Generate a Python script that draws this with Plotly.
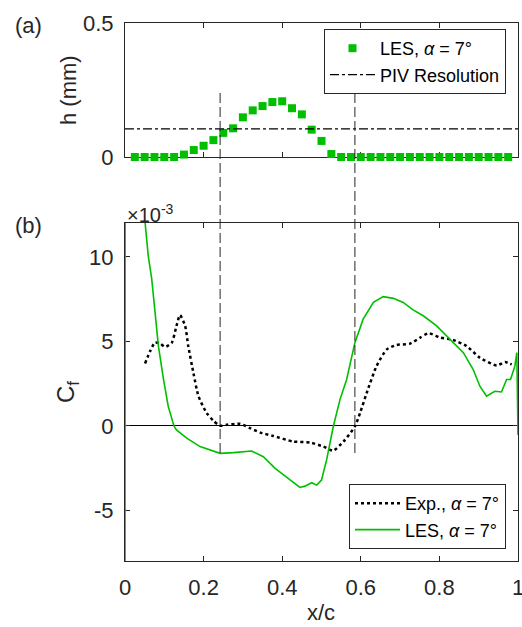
import plotly.graph_objects as go

# ---- data ----
h_x = [0.025, 0.05, 0.075, 0.1, 0.125, 0.15, 0.175, 0.2, 0.225, 0.25, 0.275, 0.3, 0.325,
       0.35, 0.375, 0.4, 0.425, 0.45, 0.475, 0.5, 0.525, 0.55, 0.575, 0.6, 0.625, 0.65,
       0.675, 0.7, 0.725, 0.75, 0.775, 0.8, 0.825, 0.85, 0.875, 0.9, 0.925, 0.95, 0.975]
h_mm = [0, 0, 0, 0, 0, 0.009, 0.026, 0.042, 0.063, 0.090, 0.107, 0.148, 0.174, 0.190,
        0.205, 0.208, 0.182, 0.159, 0.102, 0.060, 0.011, 0, 0, 0, 0, 0, 0, 0, 0, 0, 0,
        0, 0, 0, 0, 0, 0, 0, 0]
piv_x = [0.0, 1.0]
piv_h = [0.105, 0.105]

# Cf values in units of 1e-3
exp_x = [0.051, 0.064, 0.076, 0.089, 0.102, 0.119, 0.131, 0.140, 0.153, 0.161, 0.174, 0.187,
         0.208, 0.225, 0.242, 0.259, 0.293, 0.318, 0.344, 0.377, 0.428, 0.471, 0.505, 0.530,
         0.556, 0.585, 0.598, 0.615, 0.640, 0.666, 0.691, 0.725, 0.751, 0.772, 0.802, 0.835,
         0.869, 0.903, 0.946, 0.967, 0.984]
exp_cf = [3.69, 4.42, 4.92, 4.88, 4.66, 4.92, 5.91, 6.55, 5.91, 4.72, 3.14, 1.75,
          0.75, 0.30, 0.00, 0.06, 0.12, -0.14, -0.40, -0.60, -0.93, -0.99, -1.23, -1.47,
          -0.93, -0.04, 0.75, 1.94, 3.53, 4.52, 4.78, 4.86, 5.22, 5.48, 5.22, 5.08,
          4.72, 4.03, 3.57, 3.77, 3.63]

les_x = [0.0, 0.0005, 0.051, 0.059, 0.068, 0.076, 0.085, 0.098, 0.110, 0.125, 0.131, 0.157,
         0.191, 0.242, 0.276, 0.322, 0.352, 0.382, 0.411, 0.445, 0.458, 0.475, 0.488, 0.500,
         0.513, 0.530, 0.547, 0.564, 0.585, 0.606, 0.632, 0.657, 0.683, 0.708, 0.733, 0.759,
         0.793, 0.827, 0.861, 0.886, 0.903, 0.920, 0.941, 0.958, 0.971, 0.981, 0.992, 0.997, 1.0]
les_cf = [-20, 40, 12.06, 10.08, 8.69, 6.70, 4.72, 2.74, 1.15, -0.04, -0.24, -0.73,
          -1.23, -1.63, -1.59, -1.49, -1.83, -2.52, -3.02, -3.65, -3.57, -3.37, -3.51, -3.21,
          -2.02, -0.04, 1.55, 2.74, 4.92, 6.31, 7.30, 7.64, 7.54, 7.30, 6.86, 6.51,
          5.91, 5.12, 4.33, 3.33, 2.34, 1.75, 2.04, 2.00, 2.74, 2.74, 3.53, 4.33, -0.54]

sep_x = [0.242, 0.585]

x_ticks = [0, 0.2, 0.4, 0.6, 0.8, 1]
x_ticktext = ["0", "0.2", "0.4", "0.6", "0.8", "1"]
h_ticks = [0, 0.5]
h_ticktext = ["0", "0.5"]
cf_ticks = [-5, 0, 5, 10]
cf_ticktext = ["-5", "0", "5", "10"]

# ---- style ----
GREEN = "rgb(0,191,0)"
AX = "#262626"
FONT = "Liberation Sans, Arial, Helvetica, sans-serif"
W, H = 522, 627
ML, MR, MT, MB = 125, 4, 23, 66
plot_h = H - MT - MB
plot_w = W - ML - MR

def py(pix):
    return (H - MB - pix) / plot_h

def px(pix):
    return (pix - ML) / plot_w

fig = go.Figure()

fig.add_trace(go.Scatter(x=h_x, y=h_mm, mode="markers", xaxis="x", yaxis="y",
                         marker=dict(symbol="square", size=8, color=GREEN),
                         cliponaxis=False,
                         name="LES, <i>α</i> = 7°", legend="legend"))
fig.add_trace(go.Scatter(x=piv_x, y=piv_h, mode="lines", xaxis="x", yaxis="y",
                         line=dict(color="black", width=1.2, dash="dashdot"),
                         name="PIV Resolution", legend="legend"))

fig.add_trace(go.Scatter(x=exp_x, y=exp_cf, mode="lines", xaxis="x2", yaxis="y2",
                         line=dict(color="black", width=2.5, dash="dot", shape="spline", smoothing=0.6),
                         name="Exp., <i>α</i> = 7°", legend="legend2"))
fig.add_trace(go.Scatter(x=les_x, y=les_cf, mode="lines", xaxis="x2", yaxis="y2",
                         line=dict(color=GREEN, width=1.6),
                         name="LES, <i>α</i> = 7°", legend="legend2"))

axis_common = dict(showline=True, linecolor=AX, linewidth=1, mirror="ticks",
                   ticks="inside", ticklen=5, tickcolor=AX, showgrid=False,
                   layer="below traces", ticklabeloverflow="allow",
                   tickfont=dict(family=FONT, size=22, color=AX))

top_dom = [py(157), 1.0]
bot_dom = [0.0, py(223)]

fig.update_layout(
    width=W, height=H,
    margin=dict(l=ML, r=MR, t=MT, b=MB, autoexpand=False),
    paper_bgcolor="white", plot_bgcolor="white",
    font=dict(family=FONT, color=AX),
    xaxis=dict(domain=[0, 1], range=[0, 1], anchor="y", tickvals=x_ticks,
               showticklabels=False, zeroline=False, **axis_common),
    yaxis=dict(domain=top_dom, range=[0, 0.5], anchor="x", tickvals=h_ticks,
               ticktext=h_ticktext, zeroline=False, ticklabelstandoff=6, **axis_common),
    xaxis2=dict(domain=[0, 1], range=[0, 1], anchor="y2", tickvals=x_ticks,
                ticktext=x_ticktext, zeroline=False, ticklabelstandoff=7, **axis_common),
    yaxis2=dict(domain=bot_dom, range=[-8, 12], anchor="x2", tickvals=cf_ticks,
                ticktext=cf_ticktext, zeroline=True, zerolinecolor="black",
                zerolinewidth=1, ticklabelstandoff=6, **axis_common),
    legend=dict(x=px(506), y=py(29), xanchor="right", yanchor="top",
                bgcolor="white", bordercolor=AX, borderwidth=1, itemwidth=45,
                tracegroupgap=0, font=dict(family=FONT, size=18, color="black")),
    legend2=dict(x=px(506), y=py(549), xanchor="right", yanchor="bottom",
                 bgcolor="white", bordercolor=AX, borderwidth=1, itemwidth=45,
                 tracegroupgap=0, font=dict(family=FONT, size=18, color="black")),
    showlegend=True,
)

for xs in sep_x:
    fig.add_shape(type="line", xref="x2", yref="paper", x0=xs, x1=xs,
                  y0=py(453), y1=py(89), layer="above",
                  line=dict(color=AX, width=1, dash="10px,4px"))

ann_font = dict(family=FONT, size=22, color=AX)
common_ann = dict(xref="paper", yref="paper", showarrow=False,
                  xanchor="center", yanchor="middle")
fig.add_annotation(text="(a)", x=px(28), y=py(25), font=ann_font, **common_ann)
fig.add_annotation(text="(b)", x=px(28), y=py(225), font=ann_font, **common_ann)
fig.add_annotation(text="h (mm)", x=px(68), y=py(90), textangle=-90,
                   font=ann_font, **common_ann)
fig.add_annotation(text="C<sub>f</sub>", x=px(68), y=py(392), textangle=-90,
                   font=dict(family=FONT, size=24, color=AX), **common_ann)
fig.add_annotation(text="x/c", x=px(321), y=py(612), font=ann_font, **common_ann)
fig.add_annotation(text="×10<sup>-3</sup>", x=0, y=py(213), xref="paper", yref="paper",
                   xanchor="left", yanchor="middle", showarrow=False,
                   font=dict(family=FONT, size=20, color=AX))

fig.write_html("out.html", config={"displayModeBar": False},
               post_script="document.body.style.margin='0';document.body.style.overflow='hidden';")
